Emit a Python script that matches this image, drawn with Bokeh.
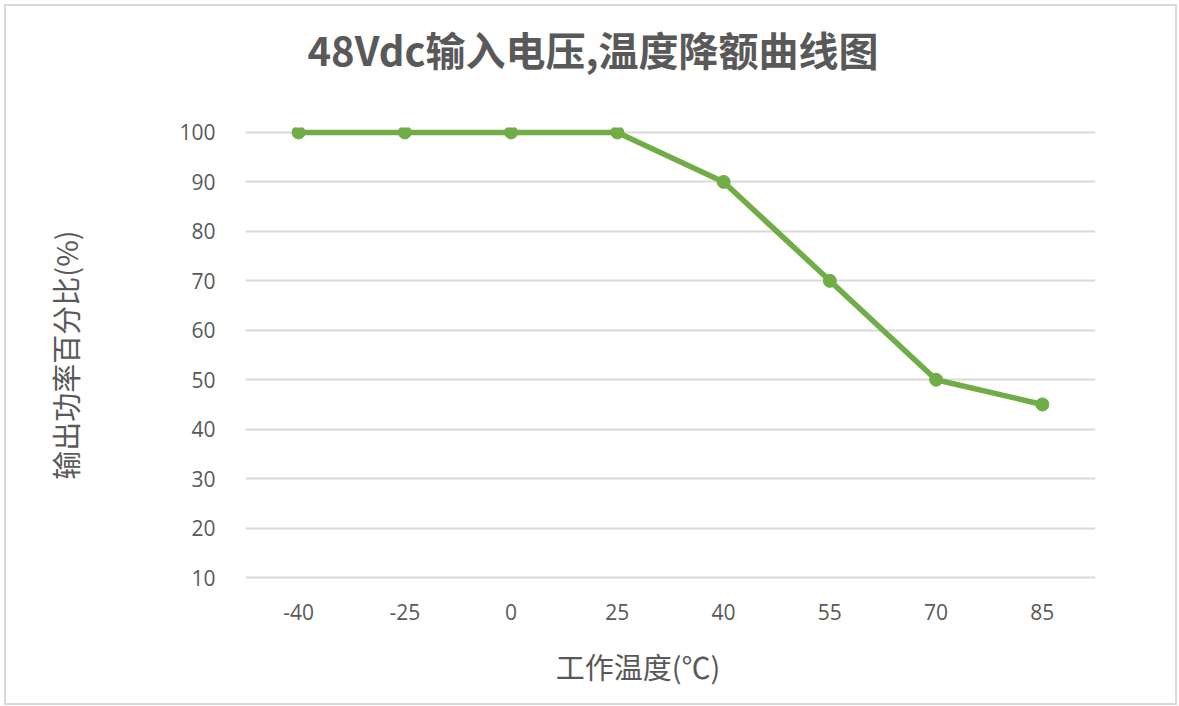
from bokeh.plotting import figure
from bokeh.models import FactorRange, Range1d, FixedTicker, Title
from bokeh.embed import file_html
from bokeh.resources import INLINE

# ---- data ----
temps = ["-40", "-25", "0", "25", "40", "55", "70", "85"]
power = [100, 100, 100, 100, 90, 70, 50, 45]
y_ticks = [10, 20, 30, 40, 50, 60, 70, 80, 90, 100]
title_text = "48Vdc输入电压,温度降额曲线图"
x_title = "工作温度(℃)"
y_title = "输出功率百分比(%)"

GREEN = "#70AD47"
GRAY = "#595959"
GRID = "#D9D9D9"
CJK = "Noto Sans CJK SC"

# figure box (with 2px border) starts at page (4,4)
W, H = 1173, 701
FL, FR, FT, FB = 239, 1089, 121, 576   # frame edges

p = figure(
    width=W, height=H, title=None,
    x_range=FactorRange(factors=temps, range_padding=0),
    y_range=Range1d(9, 101),
    output_backend="svg", toolbar_location=None,
    min_border_left=FL, min_border_right=W - FR,
    min_border_top=FT, min_border_bottom=H - FB,
)
p.outline_line_color = None
p.background_fill_color = "white"
p.border_fill_color = "white"
p.styles = {"border": "2px solid #D9D9D9", "margin-left": "4px", "margin-top": "4px"}

# spacer + title above the frame (list order = outward from frame)
p.add_layout(Title(text=" ", text_font_size="30px", standoff=10), "above")
p.add_layout(Title(text=title_text, text_font=CJK, text_font_style="bold",
                   text_font_size="40px", text_color=GRAY,
                   align="left", offset=62), "above")

# axes
for ax in (p.xaxis[0], p.yaxis[0]):
    ax.axis_line_color = None
    ax.major_tick_line_color = None
    ax.minor_tick_line_color = None
    ax.major_label_text_color = GRAY
    ax.major_label_text_font = "Open Sans"
    ax.major_label_text_font_size = "21px"
    ax.axis_label_text_font = CJK
    ax.axis_label_text_font_size = "29px"
    ax.axis_label_text_font_style = "normal"
    ax.axis_label_text_color = GRAY
p.yaxis[0].ticker = FixedTicker(ticks=y_ticks)
p.yaxis[0].major_label_standoff = 24
p.xaxis[0].major_label_standoff = 15
p.xaxis[0].axis_label = x_title + "\u00a0" * 10
p.xaxis[0].axis_label_standoff = 22
p.yaxis[0].axis_label = y_title
p.yaxis[0].axis_label_standoff = 90

p.xgrid.grid_line_color = None
p.ygrid.ticker = FixedTicker(ticks=y_ticks)
p.ygrid.grid_line_color = GRID
p.ygrid.grid_line_width = 2

# series
p.line(temps, power, line_color=GREEN, line_width=5.5)
p.scatter(temps, power, size=13, fill_color=GREEN, line_color=GREEN)

open("out.html", "w").write(file_html(p, INLINE))
